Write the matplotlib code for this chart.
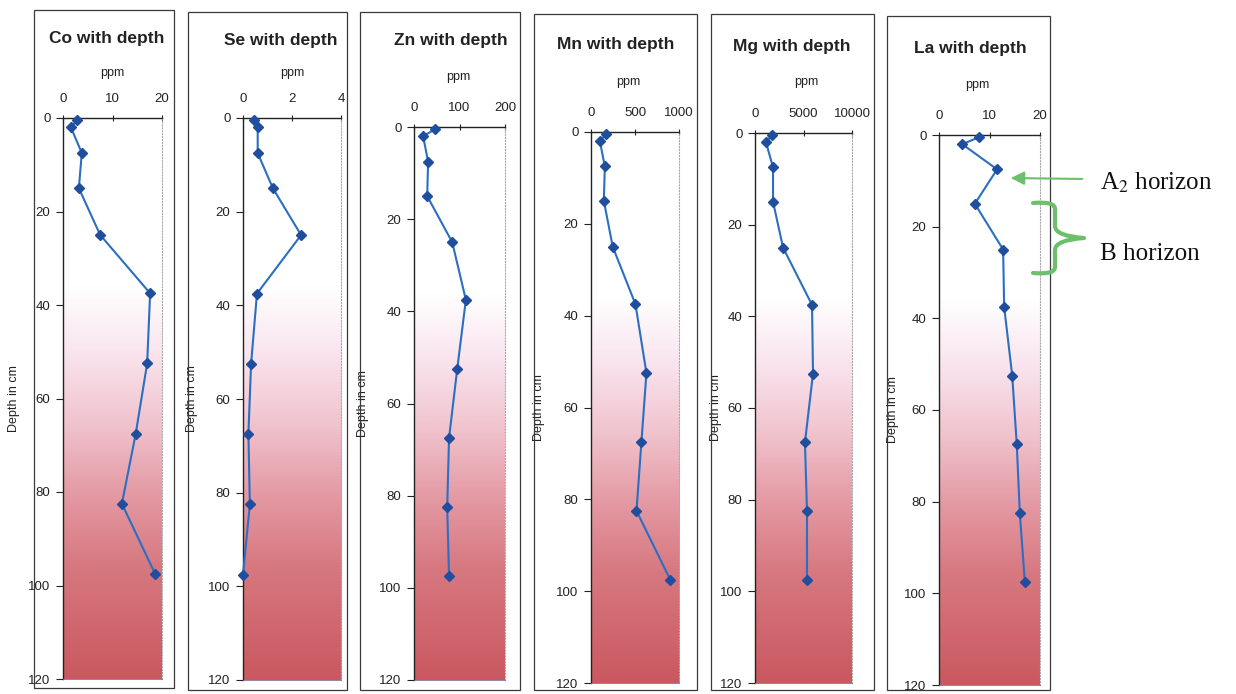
import numpy as np
import matplotlib
matplotlib.use("Agg")
import matplotlib.pyplot as plt
from matplotlib.colors import LinearSegmentedColormap
from matplotlib.patches import Rectangle, FancyArrowPatch, PathPatch
from matplotlib.path import Path

plt.rcParams['font.family'] = ['Liberation Sans', 'DejaVu Sans']
plt.rcParams['mathtext.fontset'] = 'stix'

# ---------------- data ----------------
depth = [0.5, 2, 7.5, 15, 25, 37.5, 52.5, 67.5, 82.5, 97.5]
elements = ["Co", "Se", "Zn", "Mn", "Mg", "La"]
co = [2.8, 1.6, 3.8, 3.2, 7.5, 17.6, 17.0, 14.7, 11.9, 18.6]
se = [0.45, 0.6, 0.6, 1.22, 2.37, 0.57, 0.33, 0.22, 0.28, 0.0]
zn = [46, 20, 31, 29, 84, 114, 95, 77, 73, 77]
mn = [169, 101, 157, 146, 247, 505, 630, 573, 517, 900]
mg = [1750, 1130, 1860, 1860, 2890, 5880, 5980, 5150, 5360, 5360]
la = [7.9, 4.6, 11.5, 7.1, 12.7, 12.9, 14.5, 15.4, 16.0, 17.0]
series = [co, se, zn, mn, mg, la]
xmax = [20, 4, 200, 1000, 10000, 20]
xticks = [[0, 10, 20], [0, 2, 4], [0, 100, 200], [0, 500, 1000],
          [0, 5000, 10000], [0, 10, 20]]
yticks = [0, 20, 40, 60, 80, 100, 120]

# ---------------- layout (pixels) ----------------
W, H = 1236, 694
fig = plt.figure(figsize=(W / 100, H / 100), dpi=100)
fig.patch.set_facecolor('white')

frames = [(34, 10, 174, 688), (188, 12, 347, 690), (360, 12, 520, 690),
          (534, 14, 697, 690), (711, 14, 874, 690), (887, 16, 1050, 690)]
axboxes = [(63, 118, 162, 679), (243, 118, 341, 680), (414, 127, 505, 680),
           (591, 132, 679, 683), (755, 133, 852, 683), (939, 135, 1040, 685)]
ylabel_x = [20, 198, 369, 545, 722, 899]
title_pos = [(107, 39), (281, 41), (451, 41), (616, 45), (792, 47), (970, 48)]
ppm_pos = [(112, 73), (292, 73), (458, 77), (628, 82), (806, 82), (977, 85)]

def fx(x):
    return x / W

def fy(y):
    return 1 - y / H

for (x0, y0, x1, y1) in frames:
    fig.add_artist(Rectangle((fx(x0), fy(y1)), fx(x1 - x0), (y1 - y0) / H,
                             transform=fig.transFigure, fill=False,
                             edgecolor='#3a3a3a', linewidth=0.9))

# soil gradient colormap (depth fraction 0 -> 1)
grad_cmap = LinearSegmentedColormap.from_list('soil', [
    (0.0, '#ffffff'), (0.30, '#ffffff'), (0.42, '#f9e4ee'),
    (0.55, '#f0c2cc'), (0.67, '#e49aa4'), (0.80, '#d77880'),
    (1.0, '#ca5860')])
grad = np.linspace(0, 1, 256).reshape(-1, 1)

line_col = '#2a6fc2'
mark_col = '#1f4e9e'

for i, (el, vals) in enumerate(zip(elements, series)):
    x0, y0, x1, y1 = axboxes[i]
    ax = fig.add_axes([fx(x0), fy(y1), fx(x1 - x0), (y1 - y0) / H])
    ax.imshow(grad, extent=[0, xmax[i], 120, 0], aspect='auto',
              cmap=grad_cmap, zorder=0, interpolation='bilinear')
    ax.plot(vals, depth, color=line_col, lw=1.5, marker='D', ms=5,
            mfc=mark_col, mec=mark_col, zorder=3, clip_on=False)
    ax.set_xlim(0, xmax[i])
    ax.set_ylim(120, 0)
    ax.set_yticks(yticks)
    ax.set_xticks(xticks[i])
    ax.xaxis.tick_top()
    ax.tick_params(axis='x', direction='inout', length=5, labelsize=9.5,
                   pad=7, colors='#222222')
    ax.tick_params(axis='y', direction='out', length=5, labelsize=9.5,
                   pad=4, colors='#222222')
    for s in ['left', 'top']:
        ax.spines[s].set_color('#222222')
        ax.spines[s].set_linewidth(1.0)
    ax.spines['right'].set_color('#aaaaaa')
    ax.spines['right'].set_linestyle(':')
    ax.spines['bottom'].set_color('#8a6a9a')
    ax.spines['bottom'].set_linewidth(0.6)
    ax.set_ylabel('Depth in cm', fontsize=9, color='#222222')
    ax.yaxis.set_label_coords(fx(ylabel_x[i] - x0) / fx(x1 - x0), 0.5)
    tx, ty = title_pos[i]
    fig.text(fx(tx), fy(ty), f'{el} with depth', fontsize=12.5,
             fontweight='bold', ha='center', va='center', color='#222222')
    px, py = ppm_pos[i]
    fig.text(fx(px), fy(py), 'ppm', fontsize=9, ha='center', va='center',
             color='#222222')

# ---------------- annotations ----------------
green = '#6cbf6c'
arrow = FancyArrowPatch((fx(1085), fy(179)), (fx(1008), fy(178)),
                        transform=fig.transFigure, arrowstyle='-|>',
                        mutation_scale=20, color=green, lw=1.5)
fig.add_artist(arrow)
fig.text(fx(1100), fy(183), 'A$_{2}$ horizon', fontsize=18,
         family='Liberation Serif', ha='left', va='center', color='#111111')
fig.text(fx(1100), fy(254), 'B horizon', fontsize=18,
         family='Liberation Serif', ha='left', va='center', color='#111111')

# curly brace
bx0, bx1, bxt = 1033, 1055, 1084
by0, bym, by1 = 203, 238, 273
verts = [(bx0, by0), (bx1, by0 - 2), (bx1, by0 + 6), (bx1, by0 + 14),
         (bx1, bym - 12), (bx1, bym - 2), (bxt, bym),
         (bx1, bym + 2), (bx1, bym + 12),
         (bx1, by1 - 14), (bx1, by1 - 6), (bx1, by1 + 2), (bx0, by1)]
codes = [Path.MOVETO, Path.CURVE3, Path.CURVE3, Path.LINETO,
         Path.LINETO, Path.CURVE3, Path.CURVE3,
         Path.CURVE3, Path.CURVE3,
         Path.LINETO, Path.LINETO, Path.CURVE3, Path.CURVE3]
verts_f = [(fx(x), fy(y)) for x, y in verts]
brace = PathPatch(Path(verts_f, codes), transform=fig.transFigure,
                  fill=False, edgecolor=green, lw=3, capstyle='round',
                  joinstyle='round')
fig.add_artist(brace)

fig.savefig('out.png', dpi=100)
